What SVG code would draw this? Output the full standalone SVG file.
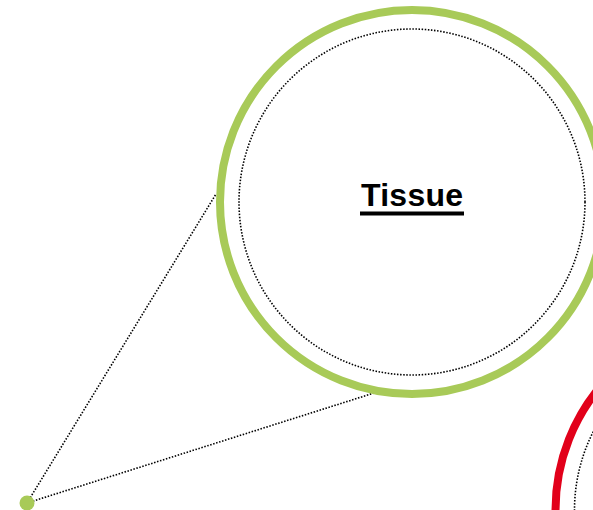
<svg xmlns="http://www.w3.org/2000/svg" width="593" height="510" viewBox="0 0 593 510">
  <style>
    .ring { fill: none; stroke-width: 8; }
    .dots { fill: none; stroke: #000; stroke-width: 1.6; stroke-dasharray: 1.5 1.6; }
    .label { font-family: "Liberation Sans", Arial, sans-serif; font-weight: bold; font-size: 32px; fill: #000; }
  </style>
  <rect width="593" height="510" fill="#fff"/>
  <g id="connectors">
    <line class="dots" x1="27" y1="503" x2="216" y2="194"/>
    <line class="dots" x1="27" y1="503" x2="374" y2="393"/>
  </g>
  <g id="tissue">
    <circle class="ring" cx="412" cy="202" r="192" stroke="#a8ca58"/>
    <circle class="dots" cx="412" cy="202" r="173"/>
    <text class="label" x="412" y="205.5" text-anchor="middle" textLength="102" lengthAdjust="spacing">Tissue</text>
    <rect x="360" y="211.5" width="104" height="4" fill="#000"/>
  </g>
  <g id="organ">
    <circle class="ring" cx="747.5" cy="510" r="192" stroke="#e2001a"/>
    <circle class="dots" cx="747.5" cy="510" r="173"/>
  </g>
  <g id="point">
    <circle cx="27" cy="503" r="7.5" fill="#a8ca58"/>
  </g>
</svg>
